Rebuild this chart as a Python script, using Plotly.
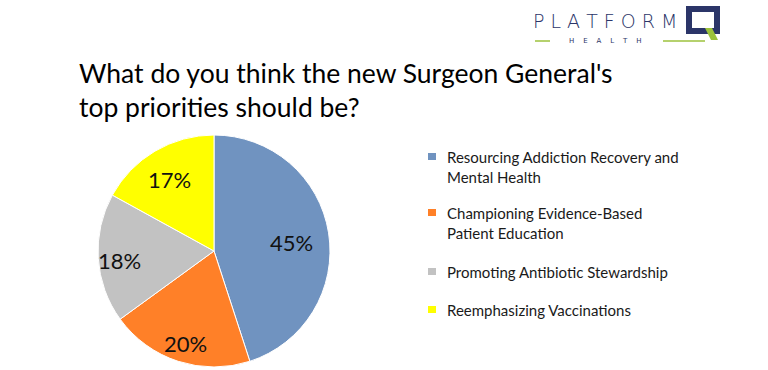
import math
import plotly.graph_objects as go

W, H = 768, 370

labels = [
    "Resourcing Addiction Recovery and<br>Mental Health",
    "Championing Evidence-Based<br>Patient Education",
    "Promoting Antibiotic Stewardship",
    "Reemphasizing Vaccinations",
]
values = [45, 20, 18, 17]
colors = ["#7093C0", "#FF8028", "#C2C2C2", "#FFFF00"]
title_text = "What do you think the new Surgeon General's<br>top priorities should be?"

def px(x):
    return x / W

def py(y):
    return 1 - y / H

cx, cy, r = 214, 251, 116

fig = go.Figure()
fig.add_trace(go.Pie(
    labels=labels,
    values=values,
    sort=False,
    direction="clockwise",
    rotation=0,
    marker=dict(colors=colors, line=dict(color="#FFFFFF", width=1)),
    textinfo="none",
    showlegend=False,
    hoverinfo="label+value",
    domain=dict(x=[px(cx - r), px(cx + r)], y=[py(cy + r), py(cy - r)]),
))

annotations = []
shapes = []

# Slice value labels, placed along each slice's mid-angle
total = sum(values)
cum = 0
label_radius = [0.68, 0.80, 0.82, 0.76]
for v, lr in zip(values, label_radius):
    mid = (cum + v / 2) / total * 2 * math.pi
    cum += v
    lx = cx + lr * r * math.sin(mid)
    ly = cy + 4 - lr * r * math.cos(mid)
    annotations.append(dict(
        x=px(lx), y=py(ly), xref="paper", yref="paper",
        xanchor="center", yanchor="middle", showarrow=False,
        text=f"{v}%",
        font=dict(family="Lato, Open Sans, sans-serif", size=22, color="#111111"),
    ))

# Title
annotations.append(dict(
    x=px(77), y=py(55), xref="paper", yref="paper", xanchor="left", yanchor="top",
    text=title_text, showarrow=False, align="left",
    font=dict(family="Lato, Open Sans, sans-serif", size=26.5, color="#000000"),
))

# Legend (built from labels/colors)
legend_tops = [146, 202, 261, 299]
for lab, col, top in zip(labels, colors, legend_tops):
    annotations.append(dict(
        x=px(445), y=py(top), xref="paper", yref="paper", xanchor="left", yanchor="top",
        text=lab, showarrow=False, align="left",
        font=dict(family="Lato, Open Sans, sans-serif", size=15, color="#1a1a1a"),
    ))
    shapes.append(dict(
        type="rect", xref="paper", yref="paper",
        x0=px(428), x1=px(436), y0=py(top + 7), y1=py(top + 14),
        fillcolor=col, line=dict(width=0),
    ))

# Logo
navy = "#2B3568"
green = "#9CC23C"
annotations.append(dict(
    x=px(531), y=py(21), xref="paper", yref="paper", xanchor="left", yanchor="middle",
    text="P L A T F O R M", showarrow=False,
    font=dict(family="DejaVu Sans, sans-serif", size=19, color=navy, weight=300),
))
annotations.append(dict(
    x=px(605), y=py(41), xref="paper", yref="paper", xanchor="center", yanchor="middle",
    text="H&nbsp;&nbsp;&nbsp;&nbsp;E&nbsp;&nbsp;&nbsp;&nbsp;A&nbsp;&nbsp;&nbsp;&nbsp;L&nbsp;&nbsp;&nbsp;&nbsp;T&nbsp;&nbsp;&nbsp;&nbsp;H",
    showarrow=False,
    font=dict(family="DejaVu Sans, sans-serif", size=7, color=navy),
))
shapes.append(dict(type="line", xref="paper", yref="paper",
                   x0=px(535), x1=px(550), y0=py(41), y1=py(41),
                   line=dict(color=green, width=1.5)))
shapes.append(dict(type="line", xref="paper", yref="paper",
                   x0=px(663), x1=px(705), y0=py(41), y1=py(41),
                   line=dict(color=green, width=1.5)))
# Q box
shapes.append(dict(type="rect", xref="paper", yref="paper",
                   x0=px(689), x1=px(717), y0=py(31), y1=py(9),
                   line=dict(color=navy, width=6), fillcolor="rgba(0,0,0,0)"))
shapes.append(dict(type="path", xref="paper", yref="paper",
                   path=f"M {px(705)} {py(28)} L {px(712)} {py(28)} L {px(718)} {py(40)} L {px(711)} {py(40)} Z",
                   fillcolor=green, line=dict(width=0)))

fig.update_layout(
    width=W, height=H,
    margin=dict(l=0, r=0, t=0, b=0),
    paper_bgcolor="#FFFFFF",
    plot_bgcolor="#FFFFFF",
    annotations=annotations,
    shapes=shapes,
)

fig.write_html("out.html", config={"displayModeBar": False},
               post_script="document.body.style.margin='0';")
